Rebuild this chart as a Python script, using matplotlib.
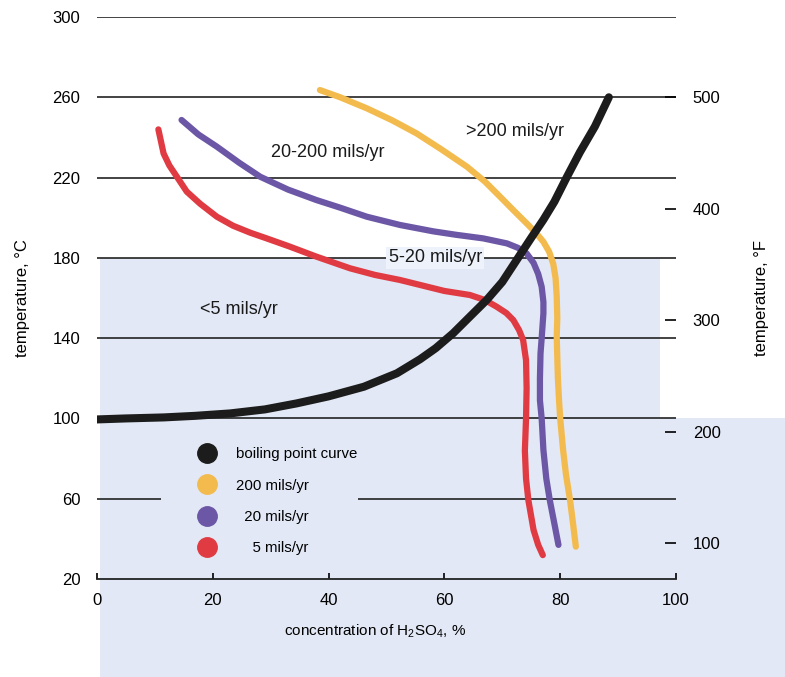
import matplotlib.pyplot as plt
from matplotlib.lines import Line2D
from matplotlib.patches import Polygon

plt.rcParams['font.family'] = ['Liberation Sans Narrow', 'Liberation Sans', 'DejaVu Sans']
plt.rcParams['mathtext.default'] = 'regular'

# boiling point curve (concentration %, temperature C)
bp_x = [0, 5, 11.5, 17, 23, 29, 34.5, 40, 46.1, 51.8, 55.8, 58.5, 61.5, 64.5, 67.3, 70,
        72.5, 75, 77.1, 79, 81.1, 83.4, 86, 88.4]
bp_y = [99.5, 100, 100.5, 101.3, 102.5, 104.5, 107.5, 111, 115.8, 122.5, 129.5, 135, 142.4,
        151, 159, 168, 179, 190, 199, 208, 220, 232.6, 245.5, 260]

# iso-corrosion curves
c200_x = [38.5, 42, 46.6, 51, 55.2, 59.5, 63.9, 67, 69.6, 72, 74.2, 75.8, 77.1, 78.1, 78.8,
          79.2, 79.4, 79.5, 79.4, 79.6, 79.8, 80, 80.5, 81, 81.7, 82.2, 82.7]
c200_y = [263.6, 260, 254.5, 248.5, 242, 234, 225.4, 218, 210.5, 203.5, 197.2, 192.5, 188,
          183, 177, 170, 160.6, 150, 140.7, 120, 109, 100, 84.3, 72, 59.3, 48, 36.1]

c20_x = [14.6, 17.5, 20.7, 24.5, 28.2, 33, 37.9, 42, 46.6, 52.3, 58.1, 62, 66.7, 70.8, 72.7,
         74.2, 75.4, 76.2, 76.8, 77.1, 77.1, 76.8, 76.6, 76.5, 76.5, 76.8, 77.1, 77.6, 78.2,
         79.1, 79.7]
c20_y = [248.7, 241.5, 235.4, 227.5, 220.4, 214, 208.8, 205, 200.5, 196.4, 193.2, 191.5, 189.7,
         187.2, 185, 182.2, 177.5, 172, 165.6, 158, 152.4, 140, 132.4, 120, 109, 100, 84.3, 70,
         59.3, 46, 37]

c5_x = [10.6, 11.5, 12.5, 13.8, 15.5, 17.8, 20.7, 23.5, 26.5, 29.3, 33.3, 37.9, 43.7, 48,
        52.3, 55.8, 60, 64.4, 67, 69, 70.7, 71.9, 72.9, 73.6, 74.1, 74.2, 74.1, 73.9, 74.1,
        74.5, 75.4, 76.2, 77]
c5_y = [244, 232, 226, 220.4, 213, 207, 200.5, 196, 192.5, 189.7, 185.6, 180.6, 174.8, 171.5,
        169, 166.5, 163.5, 161.5, 159, 155.7, 152.5, 149, 144, 139, 129, 115, 100, 84, 70,
        59.3, 44.4, 37, 31.9]

x_ticks = [0, 20, 40, 60, 80, 100]
c_ticks = [20, 60, 100, 140, 180, 220, 260, 300]
f_ticks = [100, 200, 300, 400, 500]

regions = [
    ("20-200 mils/yr", 39.9, 232.7),
    (">200 mils/yr", 72.2, 243.2),
    ("<5 mils/yr", 24.5, 154.5),
]

BLACK = "#1c1c1c"
YELLOW = "#f3bb4e"
PURPLE = "#6c57a6"
RED = "#e03b42"
BLUE_BG = "#e2e8f5"

fig = plt.figure(figsize=(7.85, 6.77), dpi=100)

# scanned page tint
W, H = 785, 677
pts = [(100, 258), (660, 258), (660, 418), (785, 418), (785, 677), (100, 677)]
fig.patches.append(Polygon([(x / W, 1 - y / H) for x, y in pts], closed=True,
                           transform=fig.transFigure, facecolor=BLUE_BG,
                           edgecolor="none", zorder=-5))

ax = fig.add_axes([97 / W, 1 - 579 / H, (676 - 97) / W, (579 - 17) / H])
ax.patch.set_alpha(0)
ax.set_xlim(0, 100)
ax.set_ylim(20, 300)

for s in ["top", "left", "right"]:
    ax.spines[s].set_visible(False)
ax.spines["bottom"].set_linewidth(1.3)
ax.spines["bottom"].set_color("#222222")

# horizontal rules
for t in c_ticks[1:]:
    if t == 60:
        ax.hlines(t, 0, 11, color="#222222", lw=1.2, zorder=1)
        ax.hlines(t, 45, 100, color="#222222", lw=1.2, zorder=1)
    else:
        ax.hlines(t, 0, 100, color="#222222", lw=1.2, zorder=1)

ax.set_xticks(x_ticks)
ax.set_yticks(c_ticks)
ax.tick_params(axis="x", direction="in", length=4, width=1.2, labelsize=12, pad=10)
ax.tick_params(axis="y", length=0, labelsize=12, pad=12)

ax.plot(c200_x, c200_y, color=YELLOW, lw=4.5, solid_capstyle="round", solid_joinstyle="round", zorder=3)
ax.plot(c20_x, c20_y, color=PURPLE, lw=4.5, solid_capstyle="round", solid_joinstyle="round", zorder=3)
ax.plot(c5_x, c5_y, color=RED, lw=4.5, solid_capstyle="round", solid_joinstyle="round", zorder=3)
ax.plot(bp_x, bp_y, color=BLACK, lw=5.8, solid_capstyle="round", solid_joinstyle="round", zorder=4)

for txt, x, y in regions:
    ax.text(x, y, txt, ha="center", va="center", fontsize=13, color="#1a1a1a", zorder=5)
ax.text(58.4, 180, "5-20 mils/yr", ha="center", va="center", fontsize=13, color="#1a1a1a",
        zorder=5, bbox=dict(facecolor="#eef2fa", edgecolor="none", pad=1.5))

ax.set_xlabel("concentration of H$_2$SO$_4$, %", fontsize=11, labelpad=12)
ax.xaxis.set_label_coords(0.48, -0.078)
ax.set_ylabel("temperature, °C", fontsize=12, labelpad=16)

# Fahrenheit scale
ax2 = ax.twinx()
ax2.set_ylim(20 * 1.8 + 32, 300 * 1.8 + 32)
for s in ax2.spines.values():
    s.set_visible(False)
ax2.set_yticks(f_ticks)
ax2.tick_params(axis="y", direction="in", length=8, width=1.2, labelsize=12, pad=12)
ax2.set_ylabel("temperature, °F", fontsize=12, labelpad=24)

handles = [Line2D([], [], ls="none", marker="o", ms=14, color=c, markeredgecolor=c)
           for c in [BLACK, YELLOW, PURPLE, RED]]
labels = ["boiling point curve", "200 mils/yr", "  20 mils/yr", "    5 mils/yr"]
ax.legend(handles, labels, loc="upper left", bbox_to_anchor=(0.167, 0.245),
          frameon=False, fontsize=10.8, handlelength=1.0, handletextpad=1.4,
          labelspacing=1.15, borderaxespad=0)

fig.savefig("out.png", dpi=100)
